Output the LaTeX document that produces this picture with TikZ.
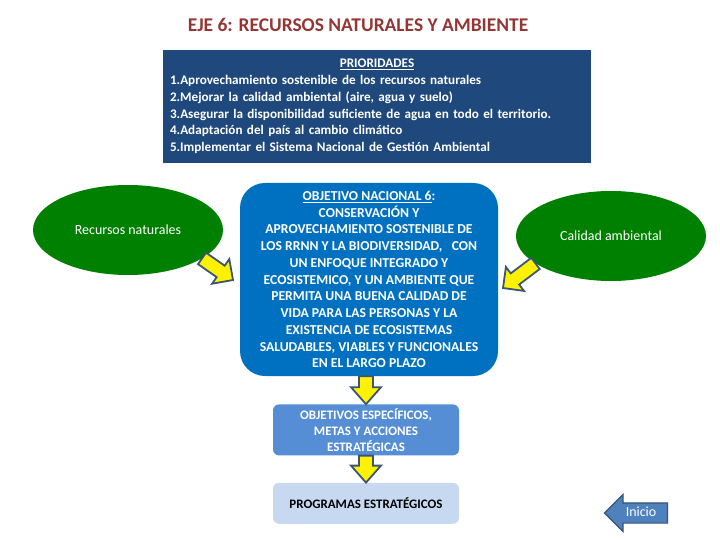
\documentclass[tikz,border=0pt]{standalone}
\usepackage{fontspec}
\setmainfont{Carlito}
\usetikzlibrary{positioning,calc,shapes.geometric,shapes.arrows}

\definecolor{titlered}{HTML}{943634}
\definecolor{prioblue}{HTML}{1F497D}
\definecolor{mainblue}{HTML}{0070C0}
\definecolor{leafgreen}{HTML}{008000}
\definecolor{objblue}{HTML}{558ED5}
\definecolor{progblue}{HTML}{C6D9F1}
\definecolor{arrowline}{HTML}{3B5577}
\definecolor{iniblue}{HTML}{4F81BD}

\begin{document}
\begin{tikzpicture}[
    x=1bp, y=-1bp,
    recurso/.style={ellipse,fill=leafgreen,text=white,inner sep=0pt,
      minimum width=190bp,minimum height=90bp,font=\fontsize{14}{16}\selectfont},
    caja/.style={rectangle,inner sep=0pt,align=center,font=\bfseries},
    blockarrow/.style={draw=arrowline,fill=yellow,line width=1.8bp,line join=miter,
      to path={
        ($(\tikztotarget)!#1!(\tikztostart)$) coordinate (hb)
        ($(\tikztostart)!7bp!90:(\tikztotarget)$)
        -- ($(hb)!7bp!90:(\tikztotarget)$)
        -- ($(hb)!15bp!90:(\tikztotarget)$)
        -- (\tikztotarget)
        -- ($(hb)!15bp!-90:(\tikztotarget)$)
        -- ($(hb)!7bp!-90:(\tikztotarget)$)
        -- ($(\tikztostart)!7bp!-90:(\tikztotarget)$) -- cycle}},
    blockarrow/.default=17bp
    ]

    \useasboundingbox (0,0) rectangle (720,540);

    % title:
    \node (title) at (358,25) [font=\fontsize{19.5}{22}\selectfont\bfseries,text=titlered]
      {EJE 6: RECURSOS NATURALES Y AMBIENTE};

    % priorities:
    \node (prio) at (377,106.5) [caja,fill=prioblue,text=white,minimum width=428bp,
      minimum height=113bp,text width=414bp,align=left,
      font=\fontsize{13.2}{16.8}\selectfont\bfseries]
      {\hfill\underline{PRIORIDADES}\hfill\null\\
       1.Aprovechamiento sostenible de los recursos naturales\\
       2.Mejorar la calidad ambiental (aire, agua y suelo)\\
       3.Asegurar la disponibilidad suficiente de agua en todo el territorio.\\
       4.Adaptación del país al cambio climático\\
       5.Implementar el Sistema Nacional de Gestión Ambiental};

    % central objective:
    \node (cen) at (369,279.5) [caja,fill=mainblue,text=white,rounded corners=25bp,
      minimum width=258bp,minimum height=193bp,
      font=\fontsize{13.7}{16.8}\selectfont\bfseries]
      {\underline{OBJETIVO NACIONAL 6}:\\
       CONSERVACIÓN Y\\
       APROVECHAMIENTO SOSTENIBLE DE\\
       LOS RRNN Y LA BIODIVERSIDAD,\ \ \ CON\\
       UN ENFOQUE INTEGRADO Y\\
       ECOSISTEMICO, Y UN AMBIENTE QUE\\
       PERMITA UNA BUENA CALIDAD DE\\
       VIDA PARA LAS PERSONAS Y LA\\
       EXISTENCIA DE ECOSISTEMAS\\
       SALUDABLES, VIABLES Y FUNCIONALES\\
       EN EL LARGO PLAZO};

    % side ellipses:
    \node (rec) at (128,230) [recurso] {Recursos naturales};
    \node (cal) at (611,236) [recurso] {Calidad ambiental};

    % lower boxes:
    \node (obj) [caja,below=28bp of cen,xshift=-3bp,fill=objblue,text=white,
      rounded corners=6bp,minimum width=186bp,minimum height=51bp,
      font=\fontsize{13}{16}\selectfont\bfseries]
      {OBJETIVOS ESPECÍFICOS,\\ METAS Y ACCIONES\\ ESTRATÉGICAS};
    \node (prog) [caja,below=27bp of obj,fill=progblue,rounded corners=6bp,
      minimum width=186bp,minimum height=41bp,
      font=\fontsize{13}{15}\selectfont\bfseries]
      {PROGRAMAS ESTRATÉGICOS};

    % back button:
    \node (ini) at (641,513) [single arrow,shape border rotate=180,fill=iniblue,
      draw=arrowline,line width=1.2bp,text=white,inner xsep=3bp,inner ysep=4.5bp,
      text height=8bp,text depth=2bp,single arrow head extend=8.5bp,
      minimum height=63bp,font=\fontsize{14}{16}\selectfont] {Inicio};

    % yellow arrows:
    \coordinate (tipL) at (233,280);
    \coordinate (tipR) at (503,288);
    \draw [blockarrow=15bp] (rec.-21) to (tipL);
    \draw [blockarrow=15bp] (cal.-160) to (tipR);
    \draw [blockarrow] (cen.south -| obj.north) to (obj.north);
    \draw [blockarrow] (obj.south) to (prog.north);

  \end{tikzpicture}
\end{document}
